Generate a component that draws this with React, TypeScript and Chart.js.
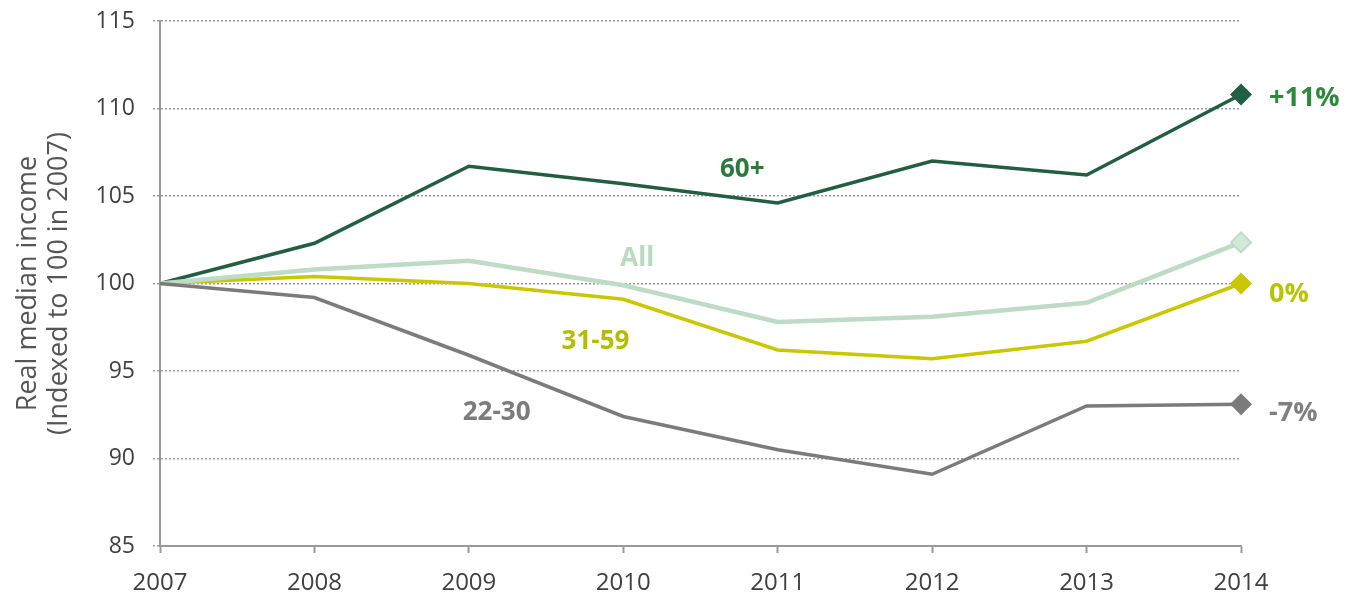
import React, { useEffect, useRef } from "react";
import { Chart, registerables } from "chart.js";

Chart.register(...registerables);

const years = ["2007", "2008", "2009", "2010", "2011", "2012", "2013", "2014"];
const age60plus = [100, 102.3, 106.7, 105.7, 104.6, 107.0, 106.2, 110.8];
const allAges = [100, 100.8, 101.3, 99.9, 97.8, 98.1, 98.9, 102.35];
const age31to59 = [100, 100.4, 100.0, 99.1, 96.2, 95.7, 96.7, 100.0];
const age22to30 = [100, 99.2, 95.9, 92.4, 90.5, 89.1, 93.0, 93.1];

const yTicks = [85, 90, 95, 100, 105, 110, 115];

const FONT = "'Open Sans', 'Noto Sans', sans-serif";

// in-chart series labels (data units: category index, value)
const seriesLabels = [
  { text: "60+", at: 3.77, value: 106.5, color: "#2b7a3c" },
  { text: "All", at: 3.09, value: 101.4, color: "#b8dac0" },
  { text: "31-59", at: 2.82, value: 96.7, color: "#b4be00" },
  { text: "22-30", at: 2.18, value: 92.6, color: "#7c7c7c" },
];
// end labels next to the 2014 point
const endLabels = [
  { text: "+11%", value: 110.6, color: "#2b8a3c" },
  { text: "0%", value: 99.4, color: "#b8c400" },
  { text: "-7%", value: 92.6, color: "#808080" },
];

const labelPlugin = {
  id: "labelPlugin",
  afterDatasetsDraw(chart: any) {
    const { ctx, scales } = chart;
    const x = scales.x;
    const y = scales.y;
    ctx.save();
    ctx.font = `bold 26px ${FONT}`;
    ctx.textBaseline = "middle";
    ctx.textAlign = "center";
    for (const l of seriesLabels) {
      ctx.fillStyle = l.color;
      ctx.fillText(l.text, x.getPixelForValue(l.at), y.getPixelForValue(l.value));
    }
    ctx.textAlign = "left";
    ctx.font = `bold 27px ${FONT}`;
    const lastX = x.getPixelForValue(years.length - 1);
    for (const l of endLabels) {
      ctx.fillStyle = l.color;
      ctx.fillText(l.text, lastX + 28, y.getPixelForValue(l.value));
    }
    ctx.restore();
  },
};

function lastOnly(r: number) {
  return (c: any) => (c.dataIndex === years.length - 1 ? r : 0);
}

export default function App() {
  const ref = useRef<HTMLCanvasElement>(null);
  useEffect(() => {
    if (!ref.current) return;
    const chart = new Chart(ref.current, {
      type: "line",
      data: {
        labels: years,
        datasets: [
          {
            label: "22-30",
            data: age22to30,
            borderColor: "#7b7b7b",
            backgroundColor: "#7b7b7b",
            borderWidth: 3.5,
            pointStyle: "rectRot",
            pointRadius: lastOnly(11),
            pointBorderWidth: 0,
            tension: 0,
          },
          {
            label: "All",
            data: allAges,
            borderColor: "#bddbc5",
            backgroundColor: "#d3e8d8",
            borderWidth: 4.5,
            pointStyle: "rectRot",
            pointRadius: lastOnly(10),
            pointBorderWidth: 2,
            tension: 0,
          },
          {
            label: "31-59",
            data: age31to59,
            borderColor: "#c9c800",
            backgroundColor: "#c9c800",
            borderWidth: 3.5,
            pointStyle: "rectRot",
            pointRadius: lastOnly(11),
            pointBorderWidth: 0,
            tension: 0,
          },
          {
            label: "60+",
            data: age60plus,
            borderColor: "#215e42",
            backgroundColor: "#215e42",
            borderWidth: 3.5,
            pointStyle: "rectRot",
            pointRadius: lastOnly(11),
            pointBorderWidth: 0,
            tension: 0,
          },
        ],
      },
      options: {
        animation: false,
        responsive: true,
        maintainAspectRatio: false,
        layout: { padding: { top: 21, right: 108, bottom: 0, left: 0 } },
        plugins: {
          legend: { display: false },
          tooltip: { enabled: false },
        },
        scales: {
          x: {
            offset: false,
            afterFit: (s: any) => {
              s.height = 53;
            },
            grid: {
              drawOnChartArea: false,
              drawTicks: true,
              tickLength: 7,
              tickColor: "#9a9a9a",
              tickWidth: 2,
            },
            border: { display: true, color: "#9a9a9a", width: 2 },
            ticks: {
              color: "#404040",
              font: { family: FONT, size: 24 },
              padding: 16,
              maxRotation: 0,
              autoSkip: false,
            },
          },
          y: {
            min: 85,
            max: 115,
            afterFit: (s: any) => {
              s.width = 160;
              s.paddingTop = 10;
              s.paddingBottom = 10;
            },
            afterBuildTicks: (s: any) => {
              s.ticks = yTicks.map((v) => ({ value: v }));
            },
            grid: {
              color: "#9a9a9a",
              lineWidth: 1.5,
              drawTicks: true,
              tickLength: 7,
              tickColor: "#9a9a9a",
              tickWidth: 1.5,
              tickBorderDash: [2, 2],
            },
            border: { display: true, color: "#9a9a9a", width: 2, dash: [2, 2] },
            ticks: {
              color: "#404040",
              font: { family: FONT, size: 23 },
              padding: 18,
            },
            title: {
              display: true,
              text: ["Real median income", "(Indexed to 100 in 2007)"],
              color: "#555555",
              font: { family: FONT, size: 27, lineHeight: 1.18 },
              padding: { top: 12, bottom: 0 },
            },
          },
        },
      },
      plugins: [labelPlugin],
    });
    return () => chart.destroy();
  }, []);
  return (
    <div style={{ position: "absolute", left: 0, top: 0, width: 1349, height: 599 }}>
      <canvas ref={ref} />
    </div>
  );
}
